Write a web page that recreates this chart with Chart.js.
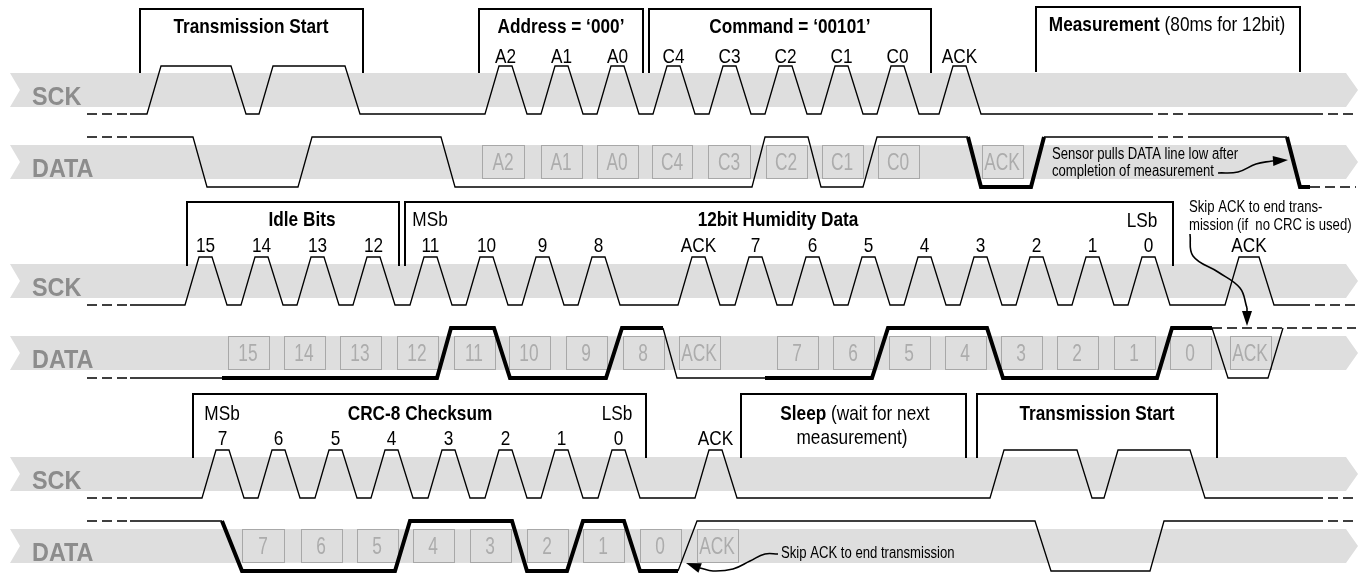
<!DOCTYPE html>
<html>
<head>
<meta charset="utf-8">
<title>SCK / DATA timing</title>
<script src="https://cdn.jsdelivr.net/npm/chart.js@4.4.0/dist/chart.umd.min.js"></script>
<style>
  html, body { margin: 0; padding: 0; background: #fff; }
  #wrap { width: 1368px; height: 577px; }
</style>
</head>
<body>
<div id="wrap"><canvas id="timing"></canvas></div>
<script>
// ---- data (x = time on the diagram axis, level 1 = high, 0 = low) ----

// SCK clock pulses per row: [rise start, length of high part]
const sckPulses1 = [[147, 70], [259, 72], [485, 13], [541, 13], [597, 13], [653, 13], [709, 13], [765, 13], [821, 13], [877, 13], [939, 13]];
const sckPulses2 = [[185, 13], [241, 13], [297, 13], [353, 13], [410, 13], [466, 13], [522, 13], [578, 13], [678, 13],
  [735, 13], [792, 13], [848, 13], [904, 13], [960, 13], [1016, 13], [1072, 13], [1128, 13], [1225, 20]];
const sckPulses3 = [[202, 13], [258, 13], [315, 13], [371, 13], [428, 13], [485, 13], [541, 13], [598, 13], [695, 13], [990, 73], [1104, 72]];

// clock labels, attached to the pulses
const sckNames1 = ['A2', 'A1', 'A0', 'C4', 'C3', 'C2', 'C1', 'C0', 'ACK'];
const sckNames2 = ['15', '14', '13', '12', '11', '10', '9', '8', 'ACK', '7', '6', '5', '4', '3', '2', '1', '0', 'ACK'];
const sckNames3 = ['7', '6', '5', '4', '3', '2', '1', '0', 'ACK'];

// DATA line: master driven (thin) and sensor driven (thick) parts
const data1Master = [[130, 1], [193, 1], [207, 0], [298, 0], [312, 1], [441, 1], [455, 0], [752, 0], [765, 1], [808, 1], [821, 0], [863, 0], [877, 1], [968, 1]];
const data1Ack = [[968, 1], [981, 0], [1031, 0], [1044, 1]];
const data1Wait = [[1044, 1], [1143, 1]];
const data1Wait2 = [[1193, 1], [1287, 1]];
const data1Ready = [[1287, 1], [1300, 0], [1310, 0]];

const data2Master = [[130, 0], [222, 0]];
const data2Msb = [[222, 0], [437, 0], [451, 1], [494, 1], [510, 0], [606, 0], [622, 1], [663, 1]];
const data2Ack = [[663, 1], [677, 0], [765, 0]];
const data2Lsb = [[765, 0], [872, 0], [888, 1], [987, 1], [1003, 0], [1157, 0], [1172, 1], [1212, 1]];
const data2Skip = [[1212, 1], [1228, 0], [1268, 0], [1283, 1]];

const data3Master = [[130, 1], [222, 1]];
const data3Crc = [[222, 1], [242, 0], [395, 0], [410, 1], [512, 1], [527, 0], [567, 0], [583, 1], [624, 1], [640, 0], [678, 0]];
const data3End = [[678, 0], [697, 1], [1035, 1], [1051, 0], [1150, 0], [1164, 1], [1313, 1]];

// dashed continuation pieces: [row, line ('sck'|'data'), from, to, level]
const dashedPieces = [
  [0, 'sck', 87, 130, 0], [0, 'sck', 1143, 1193, 0], [0, 'sck', 1313, 1356, 0],
  [0, 'data', 87, 130, 1], [0, 'data', 1143, 1193, 1], [0, 'data', 1310, 1356, 0],
  [1, 'sck', 87, 130, 0], [1, 'sck', 1300, 1356, 0],
  [1, 'data', 87, 130, 0], [1, 'data', 1212, 1356, 1],
  [2, 'sck', 87, 130, 0], [2, 'sck', 1313, 1356, 0],
  [2, 'data', 87, 130, 1], [2, 'data', 1313, 1356, 1],
];

// bit cells on the DATA lines
const cells1 = ['A2', 'A1', 'A0', 'C4', 'C3', 'C2', 'C1', 'C0', 'ACK'];
const cellAt1 = [503, 561, 617, 672, 729, 786, 842, 898, 1002];
const cells2 = ['15', '14', '13', '12', '11', '10', '9', '8', 'ACK', '7', '6', '5', '4', '3', '2', '1', '0', 'ACK'];
const cellAt2 = [248, 304, 360, 417, 474, 529, 586, 643, 699, 797, 853, 909, 965, 1021, 1077, 1134, 1190, 1250];
const cells3 = ['7', '6', '5', '4', '3', '2', '1', '0', 'ACK'];
const cellAt3 = [263, 321, 377, 433, 490, 547, 603, 660, 717];

// ---- layout ----
const rowShift = [0, 191, 384];
const RISE = 14, FALL = 15;
const lvl = { sckHi: 66, sckLo: 114, datHi: 137, datLo: 187 };
const bandSck = [73, 107], bandData = [145, 179];
const clockLabelY = [63, 252, 445];

// bracket frames: [left, right, top, bottom]
const frames = [
  [140, 363, 9, 73], [479, 643, 9, 73], [649, 931, 9, 73], [1036, 1300, 7, 72],
  [187, 399, 202, 266], [405, 1173, 202, 266],
  [193, 646, 394, 458], [741, 966, 394, 458], [977, 1217, 394, 458],
];

const arrows = [
  { pts: [[1218, 173], [1238, 172], [1256, 164], [1272, 161]], tip: [1288, 160] },
  { pts: [[1190, 234], [1193, 256], [1218, 272], [1240, 288], [1247, 308]], tip: [1247, 326] },
  { pts: [[778, 554], [765, 554], [750, 561], [733, 569], [713, 571], [700, 568]], tip: [686, 563] },
];

// narrow face if installed, otherwise squeeze the regular one
function pickNarrow() {
  const c = document.createElement('canvas').getContext('2d');
  const probe = 'Transmission Start 0123';
  c.font = '20px monospace';
  const mono = c.measureText(probe).width;
  c.font = '20px "Liberation Sans Narrow", monospace';
  const narrow = c.measureText(probe).width;
  if (Math.abs(narrow - mono) > 0.5) return { family: '"Liberation Sans Narrow"', squeeze: 1 };
  return { family: '"Liberation Sans", Arial, sans-serif', squeeze: 0.82 };
}
const NARROW = pickNarrow();
const REGULAR = '"Liberation Sans", Arial, sans-serif';

function sckY(row, v) { return rowShift[row] + (v ? lvl.sckHi : lvl.sckLo); }
function datY(row, v) { return rowShift[row] + (v ? lvl.datHi : lvl.datLo); }

function clockPoints(row, pulses, from, to) {
  const pts = [{ x: from, y: sckY(row, 0) }];
  pulses.forEach(([t, high]) => {
    pts.push({ x: t, y: sckY(row, 0) }, { x: t + RISE, y: sckY(row, 1) },
      { x: t + RISE + high, y: sckY(row, 1) }, { x: t + RISE + high + FALL, y: sckY(row, 0) });
  });
  pts.push({ x: to, y: sckY(row, 0) });
  return pts;
}

function levelPoints(row, list) {
  return list.map(([t, v]) => ({ x: t, y: datY(row, v) }));
}

const datasets = [];
function addLine(points, width, dash, tension) {
  datasets.push({
    data: points, showLine: true, borderColor: '#000', borderWidth: width,
    borderDash: dash || [], pointRadius: 0, tension: tension || 0, fill: false,
  });
}

// clocks
addLine(clockPoints(0, sckPulses1, 130, 1143), 1.3);
addLine(clockPoints(0, [], 1193, 1313), 1.3);
addLine(clockPoints(1, sckPulses2, 130, 1300), 1.3);
addLine(clockPoints(2, sckPulses3, 130, 1313), 1.3);

// data lines
addLine(levelPoints(0, data1Master), 1.3);
addLine(levelPoints(0, data1Ack), 4);
addLine(levelPoints(0, data1Wait), 1.3);
addLine(levelPoints(0, data1Wait2), 1.3);
addLine(levelPoints(0, data1Ready), 4);
addLine(levelPoints(1, data2Master), 1.3);
addLine(levelPoints(1, data2Msb), 4);
addLine(levelPoints(1, data2Ack), 1.3);
addLine(levelPoints(1, data2Lsb), 4);
addLine(levelPoints(1, data2Skip), 1.3);
addLine(levelPoints(2, data3Master), 1.3);
addLine(levelPoints(2, data3Crc), 4);
addLine(levelPoints(2, data3End), 1.3);

dashedPieces.forEach(([row, kind, a, b, v]) => {
  const yy = kind === 'sck' ? sckY(row, v) : datY(row, v);
  addLine([{ x: a, y: yy }, { x: b, y: yy }], 1.3, [10, 5]);
});

// bracket frames
frames.forEach(([l, r, t, b]) => {
  addLine([{ x: l, y: b }, { x: l, y: t }, { x: r, y: t }, { x: r, y: b }], 2);
});

// annotation arrows
arrows.forEach((a) => addLine(a.pts.map(([x, y]) => ({ x, y })), 1.6, [], 0.4));

function text(ctx, str, px, py, o) {
  ctx.save();
  ctx.font = `${o.bold ? 'bold ' : ''}${o.size}px ${o.family || NARROW.family}`;
  ctx.fillStyle = o.color || '#000';
  ctx.textAlign = o.align || 'center';
  ctx.textBaseline = 'alphabetic';
  ctx.translate(px, py);
  ctx.scale(o.squeeze || NARROW.squeeze, 1);
  ctx.fillText(str, 0, 0);
  ctx.restore();
}

// bold + normal run, centred on cx
function mixed(ctx, parts, cx, py, size) {
  const widths = parts.map(([s, bold]) => {
    ctx.font = `${bold ? 'bold ' : ''}${size}px ${NARROW.family}`;
    return ctx.measureText(s).width * NARROW.squeeze;
  });
  let x0 = cx - widths.reduce((a, b) => a + b, 0) / 2;
  parts.forEach(([s, bold], i) => {
    text(ctx, s, x0, py, { size, bold, align: 'left' });
    x0 += widths[i];
  });
}

const decor = {
  id: 'decor',
  beforeDatasetsDraw(chart) {
    const { ctx } = chart;
    const X = (v) => chart.scales.x.getPixelForValue(v);
    const Y = (v) => chart.scales.y.getPixelForValue(v);

    // grey signal bands with chevron ends
    rowShift.forEach((s) => {
      [bandSck, bandData].forEach(([t, b]) => {
        const m = (t + b) / 2;
        ctx.beginPath();
        ctx.moveTo(X(10), Y(s + t));
        ctx.lineTo(X(1346), Y(s + t));
        ctx.lineTo(X(1358), Y(s + m));
        ctx.lineTo(X(1346), Y(s + b));
        ctx.lineTo(X(10), Y(s + b));
        ctx.lineTo(X(20), Y(s + m));
        ctx.closePath();
        ctx.fillStyle = '#dedede';
        ctx.fill();
      });
      text(ctx, 'SCK', X(32), Y(s + bandSck[1] - 2), { size: 26, bold: true, family: REGULAR, squeeze: 0.9, color: '#8c8c8c', align: 'left' });
      text(ctx, 'DATA', X(32), Y(s + bandData[1] - 2), { size: 26, bold: true, family: REGULAR, squeeze: 0.9, color: '#8c8c8c', align: 'left' });
    });

    // bit cells
    [[cells1, cellAt1], [cells2, cellAt2], [cells3, cellAt3]].forEach(([names, at], row) => {
      const top = rowShift[row] + bandData[0];
      names.forEach((n, i) => {
        const l = Math.round(X(at[i] - 20.5)) + 0.5;
        const r = Math.round(X(at[i] + 20.5)) + 0.5;
        const t = Math.round(Y(top)) + 0.5;
        const b = Math.round(Y(top + 33)) + 0.5;
        ctx.strokeStyle = '#a8a8a8';
        ctx.lineWidth = 1;
        ctx.strokeRect(l, t, r - l, b - t);
        text(ctx, n, X(at[i]), Y(top + 25), { size: 24, color: '#acacac', squeeze: NARROW.squeeze * 0.88 });
      });
    });
  },
  afterDatasetsDraw(chart) {
    const { ctx } = chart;
    const X = (v) => chart.scales.x.getPixelForValue(v);
    const Y = (v) => chart.scales.y.getPixelForValue(v);

    // clock names over the pulses
    const rows = [[sckPulses1.slice(2), sckNames1], [sckPulses2, sckNames2], [sckPulses3, sckNames3]];
    rows.forEach(([pulses, names], row) => {
      names.forEach((n, i) => {
        const [t, high] = pulses[i];
        text(ctx, n, X(t + RISE + high / 2), Y(clockLabelY[row]), { size: 21 });
      });
    });

    // frame titles
    [['Transmission Start', 251, 33], ['Address = \u2018000\u2019', 561, 33], ['Command = \u201800101\u2019', 790, 33],
      ['Idle Bits', 302, 226], ['12bit Humidity Data', 778, 226],
      ['CRC-8 Checksum', 420, 420], ['Transmission Start', 1097, 420]].forEach(([s, x, y]) => {
      text(ctx, s, X(x), Y(y), { size: 21, bold: true });
    });
    mixed(ctx, [['Measurement', true], [' (80ms for 12bit)', false]], X(1167), Y(31), 21);
    mixed(ctx, [['Sleep', true], [' (wait for next', false]], X(855), Y(420), 21);
    text(ctx, 'measurement)', X(852), Y(444), { size: 21 });

    [['MSb', 430, 226], ['LSb', 1142, 227], ['MSb', 222, 420], ['LSb', 617, 420]].forEach(([s, x, y]) => {
      text(ctx, s, X(x), Y(y), { size: 21 });
    });

    // notes
    [['Sensor pulls DATA line low after', 1052, 159], ['completion of measurement', 1052, 176],
      ['Skip ACK to end trans-', 1189, 212], ['mission (if  no CRC is used)', 1189, 230],
      ['Skip ACK to end transmission', 781, 558]].forEach(([s, x, y]) => {
      text(ctx, s, X(x), Y(y), { size: 16, align: 'left' });
    });

    // arrow heads
    arrows.forEach((a) => {
      const [bx, by] = a.pts[a.pts.length - 1];
      const [tx, ty] = a.tip;
      const p0 = [X(bx), Y(by)], p1 = [X(tx), Y(ty)];
      const dx = p1[0] - p0[0], dy = p1[1] - p0[1];
      const len = Math.hypot(dx, dy);
      const ux = dx / len, uy = dy / len;
      const head = 15, half = 5;
      ctx.beginPath();
      ctx.moveTo(p0[0], p0[1]);
      ctx.lineTo(p1[0] - ux * head, p1[1] - uy * head);
      ctx.strokeStyle = '#000';
      ctx.lineWidth = 1.6;
      ctx.stroke();
      ctx.beginPath();
      ctx.moveTo(p1[0], p1[1]);
      ctx.lineTo(p1[0] - ux * head - uy * half, p1[1] - uy * head + ux * half);
      ctx.lineTo(p1[0] - ux * head + uy * half, p1[1] - uy * head - ux * half);
      ctx.closePath();
      ctx.fillStyle = '#000';
      ctx.fill();
    });
  },
};

new Chart(document.getElementById('timing'), {
  type: 'scatter',
  data: { datasets },
  options: {
    responsive: true,
    maintainAspectRatio: false,
    animation: false,
    layout: { padding: 0 },
    events: [],
    plugins: { legend: { display: false }, tooltip: { enabled: false } },
    scales: {
      x: { type: 'linear', min: 0, max: 1368, display: false },
      y: { type: 'linear', min: 0, max: 577, reverse: true, display: false },
    },
  },
  plugins: [decor],
});
</script>
</body>
</html>
